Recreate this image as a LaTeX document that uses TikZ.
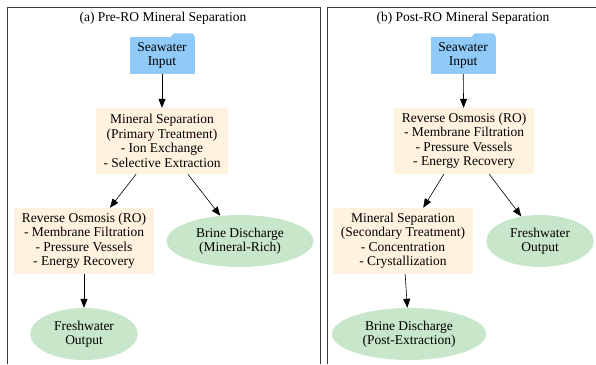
\documentclass[tikz,border=0pt]{standalone}
\usepackage{fontspec}
\setmainfont{Liberation Serif}
\usetikzlibrary{shapes.geometric,arrows.meta}

\definecolor{seablue}{HTML}{90CAF9}
\definecolor{procbg}{HTML}{FFF3E0}
\definecolor{outgreen}{HTML}{C8E6C9}
\definecolor{frame}{HTML}{3A3A3A}

\begin{document}
\begin{tikzpicture}[x=1pt, y=-1pt,
  every node/.style={font=\fontsize{13.5}{14.5}\selectfont, align=center},
  sea/.style={fill=seablue, minimum width=65pt, minimum height=37pt, inner sep=0pt},
  proc/.style={fill=procbg, minimum height=66pt, inner xsep=8pt, inner ysep=0pt},
  outlet/.style={fill=outgreen, shape=ellipse, minimum height=52pt, inner xsep=8pt, inner ysep=1pt},
  flow/.style={-{Triangle[length=9pt,width=7pt]}, semithick}]

\useasboundingbox (0,0) rectangle (596,364);

% cluster frames
\draw[frame, thick] (7,364) -- (7,7) -- (320,7) -- (320,364);
\draw[frame, thick] (327,364) -- (327,7) -- (600,7);

\node (ta) at (163,18) {(a) Pre-RO Mineral Separation};
\node (tb) at (463,18) {(b) Post-RO Mineral Separation};

% (a) mineral separation first
\node[sea] (1) at (162,55.5) {Seawater\\Input};
\fill[seablue] ([xshift=-24pt]1.north east) -- ([xshift=-21pt,yshift=3.5pt]1.north east)
  -- ([xshift=-2pt,yshift=3.5pt]1.north east) -- (1.north east) -- cycle;
\node[proc] (2) at (162,141) {Mineral Separation\\(Primary Treatment)\\- Ion Exchange\\- Selective Extraction};
\node[proc] (3) at (84,241) {Reverse Osmosis (RO)\\- Membrane Filtration\\- Pressure Vessels\\- Energy Recovery};
\node[outlet] (4) at (240,241) {Brine Discharge\\(Mineral-Rich)};
\node[outlet] (5) at (84,334) {Freshwater\\Output};

\draw[flow] (1) to (2);
\draw[flow] (2) to (3);
\draw[flow] (2) to (4);
\draw[flow] (3) to (5);

% (b) reverse osmosis first
\node[sea] (6) at (463,55.5) {Seawater\\Input};
\fill[seablue] ([xshift=-24pt]6.north east) -- ([xshift=-21pt,yshift=3.5pt]6.north east)
  -- ([xshift=-2pt,yshift=3.5pt]6.north east) -- (6.north east) -- cycle;
\node[proc] (7) at (464,141) {Reverse Osmosis (RO)\\- Membrane Filtration\\- Pressure Vessels\\- Energy Recovery};
\node[proc] (8) at (403,241) {Mineral Separation\\(Secondary Treatment)\\- Concentration\\- Crystallization};
\node[outlet] (9) at (540,241) {Freshwater\\Output};
\node[outlet] (10) at (409,334) {Brine Discharge\\(Post-Extraction)};

\draw[flow] (6) to (7);
\draw[flow] (7) to (8);
\draw[flow] (7) to (9);
\draw[flow] (8) to (10);
\end{tikzpicture}
\end{document}
